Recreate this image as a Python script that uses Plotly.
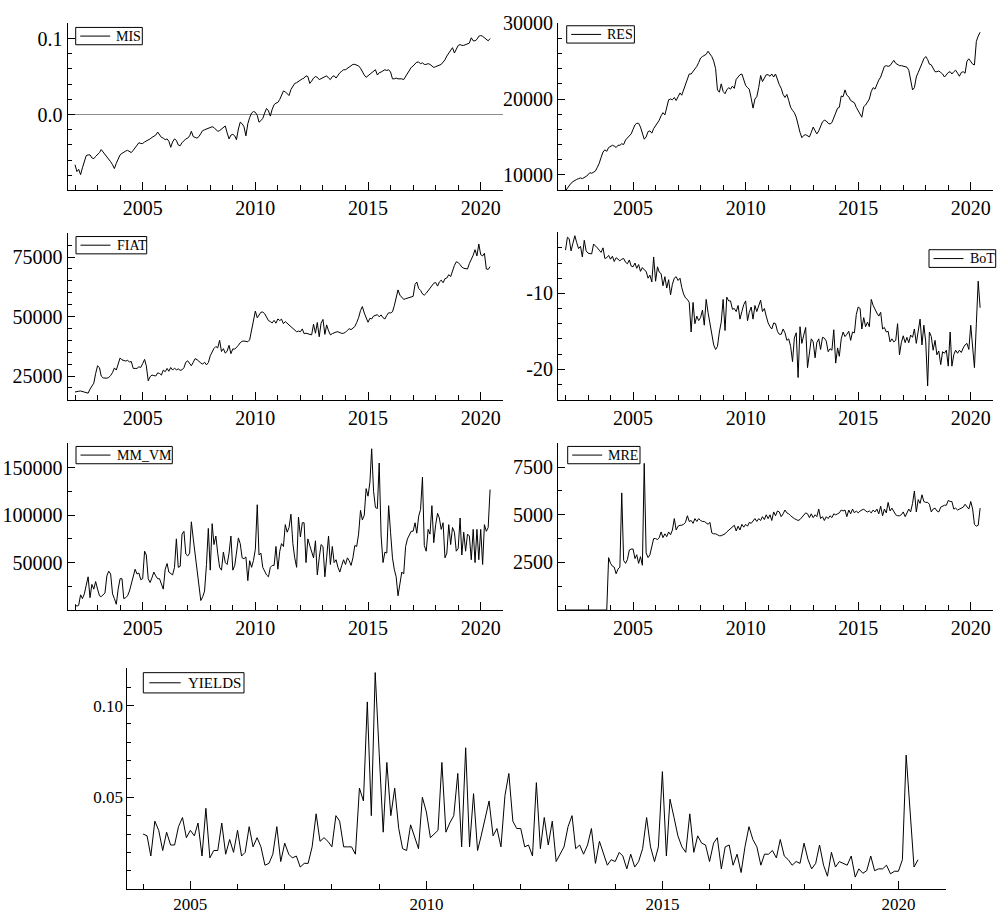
import pandas as pd
import plotly.graph_objects as go

# Monthly observations, Jan 2002 - Jun 2020 (YIELDS from Jan 2004)
months = pd.date_range("2002-01-01", periods=222, freq="MS")
months_yields = pd.date_range("2004-01-01", periods=198, freq="MS")

mis = [
    -0.066, -0.075, -0.072, -0.079, -0.070, -0.060, -0.054, -0.053, -0.053, -0.057, -0.058, -0.055,
    -0.053, -0.050, -0.046, -0.049, -0.053, -0.056, -0.059, -0.062, -0.066, -0.071, -0.064, -0.058,
    -0.053, -0.051, -0.049, -0.048, -0.047, -0.048, -0.050, -0.047, -0.044, -0.040, -0.037, -0.038,
    -0.038, -0.036, -0.035, -0.033, -0.032, -0.030, -0.028, -0.027, -0.023, -0.027, -0.030, -0.031,
    -0.033, -0.032, -0.035, -0.043, -0.036, -0.032, -0.034, -0.040, -0.041, -0.037, -0.034, -0.032,
    -0.031, -0.028, -0.022, -0.029, -0.030, -0.031, -0.029, -0.025, -0.021, -0.020, -0.019, -0.017,
    -0.016, -0.016, -0.017, -0.019, -0.022, -0.021, -0.019, -0.017, -0.015, -0.024, -0.032, -0.027,
    -0.026, -0.028, -0.033, -0.019, -0.010, -0.012, -0.016, -0.028, -0.012, -0.004, 0.002, 0.004,
    0.003, -0.001, -0.010, -0.008, -0.005, 0.002, 0.008, 0.005, -0.002, 0.007, 0.013, 0.015,
    0.016, 0.020, 0.026, 0.031, 0.030, 0.028, 0.025, 0.033, 0.038, 0.041, 0.042, 0.044,
    0.045, 0.047, 0.048, 0.051, 0.050, 0.041, 0.044, 0.048, 0.050, 0.049, 0.046, 0.047,
    0.048, 0.050, 0.051, 0.048, 0.046, 0.050, 0.051, 0.048, 0.052, 0.055, 0.057, 0.059,
    0.059, 0.061, 0.062, 0.064, 0.066, 0.066, 0.065, 0.064, 0.061, 0.056, 0.052, 0.049,
    0.051, 0.053, 0.054, 0.056, 0.059, 0.052, 0.055, 0.056, 0.057, 0.059, 0.058, 0.059,
    0.056, 0.047, 0.047, 0.048, 0.047, 0.047, 0.047, 0.046, 0.050, 0.054, 0.059, 0.062,
    0.064, 0.067, 0.069, 0.069, 0.067, 0.068, 0.066, 0.066, 0.067, 0.066, 0.064, 0.062,
    0.063, 0.064, 0.065, 0.066, 0.069, 0.072, 0.077, 0.081, 0.085, 0.088, 0.081, 0.087,
    0.091, 0.092, 0.091, 0.091, 0.092, 0.093, 0.094, 0.101, 0.097, 0.097, 0.099, 0.103,
    0.104, 0.103, 0.101, 0.099, 0.097, 0.100,
]

res = [
    7900, 8300, 8600, 8900, 9100, 9300, 9400, 9500, 9600, 9500, 9600, 9800,
    10000, 10300, 10200, 10300, 10500, 11000, 11500, 12300, 13000, 13300, 13100, 13600,
    13800, 13900, 13800, 13600, 13900, 13900, 14100, 14000, 14600, 14900, 15100, 15400,
    16000, 16600, 16800, 16800, 16300, 15600, 14700, 15000, 15700, 15800, 15500, 16100,
    16500, 16900, 17200, 17800, 18200, 17900, 18800, 19900, 20000, 19900, 20200, 19800,
    20300, 20800, 20500, 21200, 22000, 22800, 23300, 23300, 23600, 23900, 24300, 24800,
    25400, 25600, 25700, 25900, 26300, 26000, 25600, 25000, 24000, 21200, 20900, 22000,
    21000, 20700, 21200, 21500, 21300, 21700, 21400, 22600, 22900, 23200, 23300, 22600,
    21800, 21500, 21300, 20100, 18800, 20000, 20300, 21500, 23100, 22300, 22800, 23200,
    23200, 23000, 23300, 22900, 23300, 22500, 21900, 21400, 20600, 20200, 20600, 19800,
    18900, 18500, 18200, 17600, 16400, 15600, 14900, 15200, 15300, 15100, 15000, 15600,
    16300, 15800, 15400, 15800, 16500, 17000, 17200, 17100, 16800, 16700, 16900, 17600,
    18100, 18800, 18900, 20400, 20300, 21200, 20500, 20300, 19800, 19600, 19500, 18900,
    18400, 18000, 17600, 19000, 19200, 19600, 20000, 21000, 21500, 21300, 22000, 22500,
    22900, 23500, 24300, 24400, 24300, 24400, 24800, 25100, 24700, 24500, 24400, 24400,
    24300, 24300, 24200, 23800, 22500, 21200, 21500, 22900, 23500, 24000, 24700, 25300,
    25600, 25200, 24600, 24500, 24100, 23600, 23600, 23700, 23500, 23300, 22900, 23200,
    23500, 23600, 23300, 23600, 23800, 23400, 23000, 23500, 23600, 23400, 25000, 25300,
    25000, 24600, 24500, 27600, 28300, 28800,
]

fiat = [
    18300, 18300, 18600, 18700, 18500, 18400, 18200, 17800, 19500, 20500, 22000, 26000,
    29300, 28500, 25000, 24200, 24000, 24100, 24400, 25200, 26500, 28400, 27500, 30000,
    32600, 31800, 31400, 31300, 31600, 30900, 31100, 28200, 28200, 28200, 28900, 28600,
    30200, 32000, 29300, 23000, 24700, 25400, 25200, 25000, 26300, 26100, 25400, 27500,
    26800, 28200, 27000, 28600, 27500, 28300, 27600, 28000, 27400, 27600, 28500, 30800,
    31400, 30200, 29300, 30800, 32300, 31900, 31000, 30500, 30000, 30800, 29700, 30600,
    33500, 35400, 36600, 37400, 36800, 40000, 35300, 36500, 34600, 35500, 37900, 34400,
    36400, 36300, 37000, 37900, 39000, 39600, 39700, 39500, 39400, 40200, 44500, 48500,
    52300, 49500, 50800, 51800, 51900, 51200, 49800, 48300, 47900, 47300, 48400, 47200,
    49000, 48300, 48900, 47000, 47900, 47200, 46400, 45600, 45000, 44300, 43600, 43900,
    43600, 44800, 42800, 43000, 42800, 42500, 42300, 46800, 43000, 47500, 41500, 47200,
    48800, 42500, 46500, 44000, 42300, 42800, 43200, 43500, 43600, 43300, 42900, 43000,
    43400, 44200, 44900, 44500, 45300, 45800, 47500, 49500, 52500, 54200, 51500, 49800,
    47600, 49300, 49000, 50200, 50500, 50800, 49900, 50700, 49500, 49000, 50500, 51600,
    51500, 52000, 54500, 57800, 61200, 59000, 58300, 57200, 57500, 57800, 58000, 58100,
    58500, 63500, 64500, 61800, 61000, 59500, 59000, 59800, 60800, 61800, 62800, 64000,
    64300, 62800, 64500, 65300, 64200, 65900, 66200, 67600, 66800, 69500, 71500, 73000,
    72700, 71800, 70800, 70300, 70200, 70000, 72300, 74000, 75800, 78100, 75500, 80500,
    76000, 75500, 76600, 70000, 69800, 71000,
]

bot = [
    -4.3, -2.6, -2.8, -4.4, -3.4, -2.4, -3.3, -4.1, -3.8, -5.2, -3.0, -4.4,
    -4.7, -4.8, -4.8, -3.5, -3.7, -4.0, -4.3, -4.6, -4.0, -5.4, -5.3, -5.0,
    -5.5, -5.1, -5.8, -5.3, -5.5, -5.7, -5.5, -5.4, -5.9, -6.1, -5.6, -6.4,
    -6.5, -6.0, -6.7, -6.2, -7.1, -6.6, -6.9, -7.1, -8.0, -7.6, -8.5, -5.2,
    -8.4, -6.5, -7.2, -7.4, -9.0, -7.8, -9.3, -8.2, -10.2, -8.8, -8.0, -7.8,
    -8.3, -8.0, -9.2, -10.1, -10.6, -10.8, -11.2, -15.1, -11.2, -14.0, -13.0, -13.6,
    -13.2, -12.2, -14.2, -10.8, -12.5, -13.8, -15.2, -16.8, -17.4, -17.0, -15.1, -13.8,
    -10.8, -14.9, -10.5, -11.0, -11.0, -12.1, -12.0, -12.4, -11.6, -13.4, -12.4, -11.5,
    -11.0, -13.6, -12.5, -11.8, -13.4, -11.6, -12.4, -11.6, -10.9, -12.4, -12.0, -13.0,
    -13.9, -14.4, -14.7, -13.9, -14.0, -15.0, -15.4, -15.4, -14.7, -15.2, -16.2, -16.0,
    -17.0, -19.0, -15.9, -15.2, -21.1, -14.4, -16.6, -15.5, -14.5, -19.8, -17.6, -16.0,
    -16.4, -18.5, -16.5, -16.0, -17.4, -15.8, -15.9, -16.3, -17.7, -17.3, -17.5, -14.8,
    -19.2, -17.2, -18.3, -16.0, -15.1, -15.7, -15.4, -15.0, -16.2, -15.1, -15.2, -12.8,
    -11.8, -12.0, -14.7, -13.2, -14.4, -13.8, -14.4, -10.8, -11.6, -12.2, -12.6, -13.0,
    -12.5, -14.7, -14.5, -15.1, -15.0, -16.4, -16.0, -16.4, -16.2, -14.0, -18.1, -16.5,
    -15.6, -16.5, -15.8, -16.5, -15.5, -15.8, -14.7, -16.6, -15.0, -13.4, -16.8, -14.2,
    -16.4, -22.2, -15.1, -15.7, -17.5, -16.2, -18.1, -17.6, -19.4, -17.7, -17.9, -17.5,
    -19.6, -15.1, -19.6, -18.1, -17.5, -17.9, -17.5, -17.8, -17.2, -16.8, -16.6, -17.4,
    -14.2, -17.5, -19.8, -14.0, -8.4, -11.9,
]

mm_vm = [
    6000, 4000, 5000, 16000, 12000, 17000, 26000, 35000, 13000, 27000, 22000, 30000,
    22000, 15000, 14000, 16000, 18000, 36000, 41000, 38000, 17000, 12000, 6000, 22000,
    33000, 33000, 12000, 13000, 15000, 20000, 28000, 36000, 43000, 38000, 39000, 32000,
    33000, 62000, 58000, 33000, 29000, 34000, 40000, 36000, 33000, 33000, 26000, 22000,
    43000, 49000, 40000, 38000, 37000, 45000, 75000, 45000, 46000, 80000, 83000, 59000,
    57000, 60000, 93000, 75000, 58000, 45000, 30000, 10000, 14000, 20000, 48000, 86000,
    42000, 91000, 69000, 78000, 60000, 45000, 42000, 61000, 50000, 48000, 60000, 78000,
    42000, 47000, 60000, 76000, 70000, 55000, 54000, 56000, 31000, 52000, 45000, 52000,
    64000, 111000, 58000, 60000, 45000, 40000, 37000, 35000, 45000, 47000, 47000, 67000,
    43000, 62000, 70000, 67000, 90000, 82000, 87000, 101000, 70000, 55000, 45000, 98000,
    77000, 92000, 92000, 50000, 75000, 68000, 62000, 55000, 73000, 37000, 55000, 69000,
    67000, 35000, 55000, 78000, 48000, 67000, 50000, 53000, 45000, 40000, 47000, 53000,
    48000, 55000, 52000, 47000, 55000, 68000, 67000, 80000, 105000, 95000, 100000, 128000,
    120000, 135000, 170000, 125000, 108000, 107000, 155000, 78000, 50000, 61000, 60000, 110000,
    82000, 55000, 43000, 35000, 15000, 26000, 40000, 38000, 67000, 75000, 80000, 83000,
    83000, 92000, 81000, 99000, 106000, 140000, 68000, 62000, 85000, 80000, 110000, 71000,
    90000, 102000, 97000, 85000, 92000, 55000, 60000, 90000, 69000, 87000, 82000, 62000,
    65000, 97000, 58000, 82000, 62000, 80000, 78000, 53000, 85000, 50000, 85000, 53000,
    85000, 48000, 90000, 83000, 87000, 127000,
]

mre = [
    0, 0, 0, 0, 0, 0, 0, 0, 0, 0, 0, 0,
    0, 0, 0, 0, 0, 0, 0, 0, 0, 0, 0, 2750,
    2450, 2300, 2250, 1900, 2150, 2250, 6150, 2600, 2450, 2650, 3150, 3200,
    3200, 2700, 2900, 2450, 2800, 2350, 7700, 3000, 2750, 2900, 3400, 3750,
    3750, 3700, 3800, 4100, 3800, 4000, 3850, 4100, 3950, 4200, 4800, 4200,
    4400, 4450, 4450, 4500, 4600, 4950, 4650, 4700, 4550, 4800, 4650, 4800,
    4700, 4650, 4650, 4550, 4500, 4600, 4050, 4000, 4000, 3950, 3900, 3900,
    3950, 4000, 4100, 4200, 4300, 4350, 4450, 4150, 4400, 4200, 4500, 4350,
    4500, 4400, 4600, 4550, 4650, 4800, 4650, 4800, 4700, 4900, 4750, 5000,
    4800, 5000, 4700, 5150, 4950, 5200, 5150, 4900, 5050, 5250, 5100, 5050,
    4950, 4850, 4800, 4750, 4700, 4750, 4850, 5000, 5100, 5050, 4850, 5050,
    4850, 5000, 4900, 5300, 4800, 4900, 4700, 4900, 4800, 4950, 4850, 5050,
    5000, 5050, 5100, 5250, 5200, 5250, 4900, 5250, 5050, 5300, 5100, 5200,
    5100, 5200, 5250, 5300, 5200, 5150, 5200, 5100, 5250, 5150, 5300, 5050,
    5450, 4950, 5300, 5100, 5650, 5200, 5350, 5150, 5000, 4950, 4950, 5000,
    5150, 4900, 5100, 5300, 5150, 5600, 6250, 5150, 5800, 5600, 6050, 5700,
    5650, 5650, 5550, 5150, 5300, 5350, 5200, 5150, 5400, 5450, 5500, 5500,
    5750, 5700, 5700, 5300, 5350, 5250, 5300, 5350, 5400, 5550, 5450, 5300,
    5700, 5300, 4500, 4400, 4450, 5350,
]

yields = [
    0.030, 0.029, 0.018, 0.037, 0.032, 0.021, 0.031, 0.024, 0.024, 0.034, 0.039, 0.028,
    0.032, 0.029, 0.036, 0.018, 0.044, 0.017, 0.021, 0.021, 0.036, 0.019, 0.027, 0.020,
    0.032, 0.018, 0.020, 0.034, 0.023, 0.028, 0.023, 0.013, 0.014, 0.019, 0.034, 0.015,
    0.025, 0.019, 0.017, 0.018, 0.012, 0.014, 0.014, 0.023, 0.041, 0.026, 0.028, 0.026,
    0.023, 0.040, 0.037, 0.023, 0.023, 0.023, 0.019, 0.055, 0.048, 0.102, 0.040, 0.118,
    0.074, 0.031, 0.069, 0.040, 0.055, 0.033, 0.022, 0.021, 0.035, 0.028, 0.022, 0.050,
    0.042, 0.028, 0.030, 0.032, 0.069, 0.031, 0.036, 0.040, 0.063, 0.023, 0.077, 0.023,
    0.052, 0.021, 0.029, 0.038, 0.048, 0.029, 0.033, 0.023, 0.051, 0.063, 0.037, 0.033,
    0.033, 0.023, 0.024, 0.018, 0.058, 0.022, 0.039, 0.024, 0.037, 0.015, 0.019, 0.023,
    0.034, 0.040, 0.022, 0.024, 0.019, 0.024, 0.033, 0.014, 0.026, 0.019, 0.013, 0.016,
    0.015, 0.020, 0.018, 0.011, 0.019, 0.012, 0.015, 0.022, 0.039, 0.023, 0.015, 0.023,
    0.064, 0.018, 0.049, 0.039, 0.029, 0.023, 0.020, 0.041, 0.020, 0.029, 0.025, 0.024,
    0.015, 0.025, 0.028, 0.011, 0.023, 0.024, 0.013, 0.019, 0.009, 0.023, 0.034, 0.027,
    0.023, 0.013, 0.019, 0.019, 0.021, 0.017, 0.027, 0.018, 0.016, 0.013, 0.015, 0.014,
    0.025, 0.016, 0.011, 0.014, 0.024, 0.013, 0.007, 0.020, 0.012, 0.015, 0.014, 0.013,
    0.018, 0.0065, 0.011, 0.0086, 0.010, 0.018, 0.010, 0.011, 0.011, 0.013, 0.0083, 0.0097,
    0.0097, 0.016, 0.073, 0.042, 0.012, 0.016,
]

# Tick labels on each value axis
mis_ticks = [0.0, 0.1]
mis_labels = ["0.0", "0.1"]
res_ticks = [10000, 20000, 30000]
fiat_ticks = [25000, 50000, 75000]
bot_ticks = [-20, -10]
bot_labels = ["-20", "-10"]
mm_vm_ticks = [50000, 100000, 150000]
mre_ticks = [2500, 5000, 7500]
yields_ticks = [0.05, 0.10]
yields_labels = ["0.05", "0.10"]

W, H = 1001, 914
FONT = "Liberation Serif, Times New Roman, serif"


def px_x(a, b):
    return [a / W, b / W]


def px_y(top, bottom):
    return [1 - bottom / H, 1 - top / H]


# key box: left, top, width, height (px)
panels = [
    dict(name="MIS", x=months, y=mis, dx=px_x(67.5, 503.3), dy=px_y(12, 182),
         yr=[-0.0992, 0.1207], tv=mis_ticks, tt=mis_labels, minor=0.02,
         key=(75.7, 16.7, 66.6, 17.6), zero=True),
    dict(name="RES", x=months, y=res, dx=px_x(558, 993.3), dy=px_y(12, 182),
         yr=[8000, 30050], tv=res_ticks, tt=[str(v) for v in res_ticks], minor=2000,
         key=(566.7, 15.0, 67.7, 17.6)),
    dict(name="FIAT", x=months, y=fiat, dx=px_x(67.5, 503.3), dy=px_y(226, 395.3),
         yr=[15000, 85000], tv=fiat_ticks, tt=[str(v) for v in fiat_ticks], minor=5000,
         key=(76.0, 229.3, 70.7, 17.6)),
    dict(name="BoT", x=months, y=bot, dx=px_x(558, 993.3), dy=px_y(225, 395),
         yr=[-24, -1.95], tv=bot_ticks, tt=bot_labels, minor=2,
         key=(929.0, 242.7, 66.7, 18.0)),
    dict(name="MM_VM", x=months, y=mm_vm, dx=px_x(67.5, 503.3), dy=px_y(439.3, 609),
         yr=[0, 176000], tv=mm_vm_ticks, tt=[str(v) for v in mm_vm_ticks], minor=25000,
         key=(76.0, 442.7, 96.3, 17.6)),
    dict(name="MRE", x=months, y=mre, dx=px_x(558, 993.3), dy=px_y(439, 609),
         yr=[0, 8780], tv=mre_ticks, tt=[str(v) for v in mre_ticks], minor=1250,
         key=(567.7, 442.7, 72.3, 17.6)),
    dict(name="YIELDS", x=months_yields, y=yields, dx=px_x(127.3, 945.7), dy=px_y(668.3, 892.7),
         yr=[0, 0.1203], tv=yields_ticks, tt=yields_labels, minor=0.01,
         key=(143.3, 672.7, 100.7, 20.6), big=True),
]

fig = go.Figure()
layout = dict(
    width=W, height=H,
    margin=dict(l=0, r=0, t=0, b=0),
    paper_bgcolor="white", plot_bgcolor="white",
    font=dict(family=FONT, color="black"),
    showlegend=False,
)
shapes = []
annotations = []
n = len(panels)

for i, p in enumerate(panels, start=1):
    sfx = "" if i == 1 else str(i)
    big = p.get("big", False)
    tick_size = 17 if big else 20
    fig.add_trace(go.Scatter(
        x=p["x"], y=p["y"], mode="lines", name=p["name"],
        line=dict(color="black", width=1),
        xaxis=f"x{sfx}", yaxis=f"y{sfx}",
    ))
    xr = ["2003-09-01", "2021-01-01"] if big else ["2001-09-01", "2021-01-01"]
    layout[f"xaxis{sfx}"] = dict(
        domain=p["dx"], anchor=f"y{sfx}", range=xr, type="date",
        showgrid=False, zeroline=False, showline=True, linecolor="black", linewidth=1,
        ticks="inside", ticklen=8, tickwidth=1, tickcolor="black",
        tick0="2005-01-01", dtick="M60", tickformat="%Y",
        tickfont=dict(family=FONT, size=tick_size, color="black"),
        minor=dict(ticks="inside", ticklen=5, tickcolor="black", tickwidth=1,
                   dtick="M12", tick0="2002-01-01", showgrid=False),
    )
    layout[f"yaxis{sfx}"] = dict(
        domain=p["dy"], anchor=f"x{sfx}", range=p["yr"],
        showgrid=False, showline=True, linecolor="black", linewidth=1,
        zeroline=p.get("zero", False), zerolinecolor="#8c8c8c", zerolinewidth=1,
        tickmode="array", tickvals=p["tv"], ticktext=p["tt"],
        ticks="inside", ticklen=7, tickwidth=1, tickcolor="black",
        tickfont=dict(family=FONT, size=tick_size, color="black"),
        minor=dict(ticks="inside", ticklen=4, tickcolor="black", tickwidth=1,
                   tickmode="linear", tick0=0, dtick=p["minor"], showgrid=False),
    )
    # short outward stubs on the labelled ticks, so the major ticks cross the axis
    layout[f"yaxis{i + n}"] = dict(
        overlaying=f"y{sfx}", anchor="free", position=p["dx"][0], side="left",
        range=p["yr"], showgrid=False, zeroline=False, showline=False,
        tickmode="array", tickvals=p["tv"], showticklabels=False,
        ticks="outside", ticklen=3, tickwidth=1, tickcolor="black",
    )

    # series key: framed box with a line sample and the series name
    kx, ky, kw, kh = p["key"]
    x0, x1 = kx / W, (kx + kw) / W
    y1, y0 = 1 - ky / H, 1 - (ky + kh) / H
    ym = (y0 + y1) / 2
    s0, s1, tx = (6.0, 37.4, 42.5) if big else (4.5, 34.5, 38.5)
    shapes.append(dict(type="rect", xref="paper", yref="paper",
                       x0=x0, x1=x1, y0=y0, y1=y1,
                       line=dict(color="black", width=1), fillcolor="white", layer="above"))
    shapes.append(dict(type="line", xref="paper", yref="paper",
                       x0=(kx + s0) / W, x1=(kx + s1) / W, y0=ym, y1=ym,
                       line=dict(color="black", width=1), layer="above"))
    annotations.append(dict(xref="paper", yref="paper", x=(kx + tx) / W, y=ym,
                            xanchor="left", yanchor="middle", showarrow=False,
                            text=p["name"],
                            font=dict(family=FONT, size=15 if big else 14, color="black")))

layout["shapes"] = shapes
layout["annotations"] = annotations
fig.update_layout(**layout)
fig.write_html("out.html")
